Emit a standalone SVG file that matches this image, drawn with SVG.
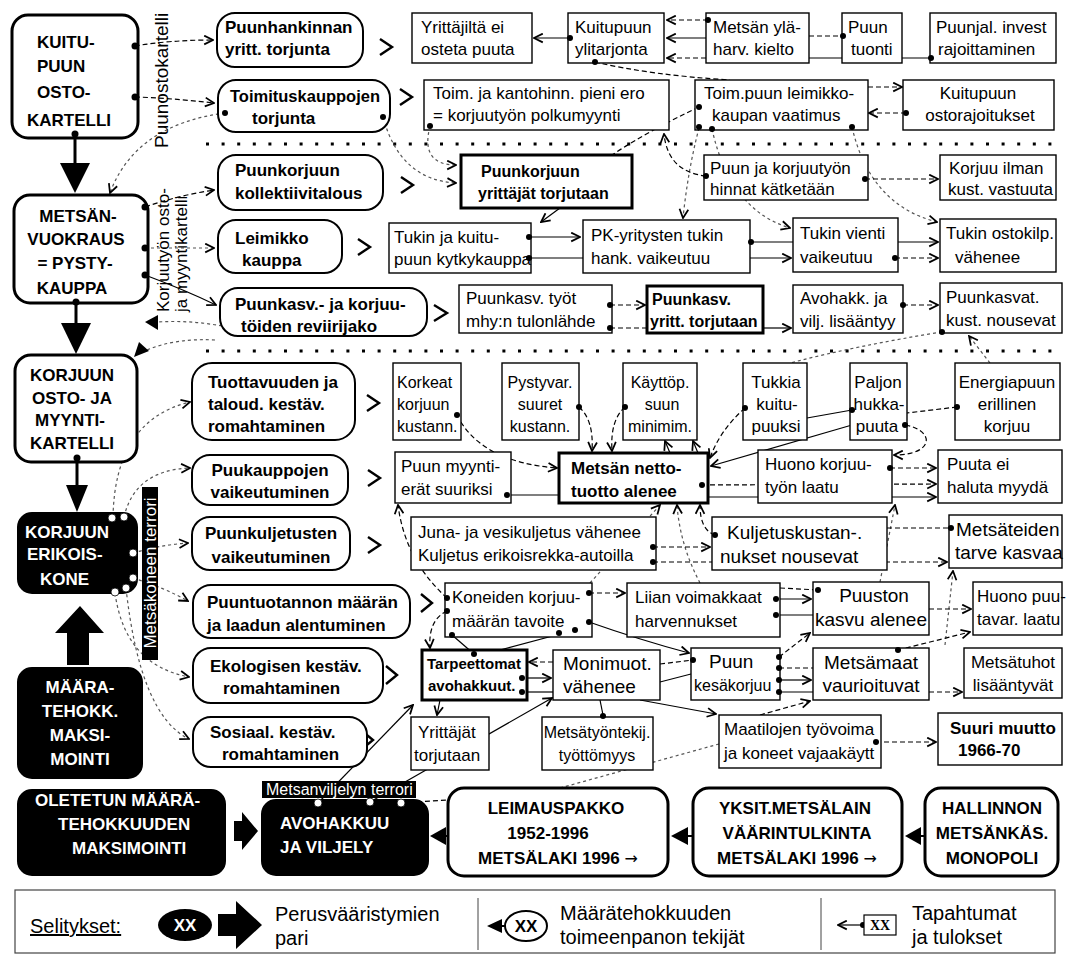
<svg xmlns="http://www.w3.org/2000/svg" width="1066" height="961" viewBox="0 0 1066 961">
<style>
text{font-family:"Liberation Sans",Arial,sans-serif;fill:#000}
.s{font-size:17px}
.s16{font-size:16px}
.s19{font-size:19px}
.b{font-size:17px;font-weight:bold}
.b16{font-size:16px;font-weight:bold}
.b15{font-size:15px;font-weight:bold}
.w{fill:#fff;font-size:17px;font-weight:bold}
.m{text-anchor:middle}
.lg{font-size:20px}
.ar{font-family:"DejaVu Sans",sans-serif;font-weight:normal;font-size:16px}
.bx{fill:#fff;stroke:#000;stroke-width:1.4}
.bt{fill:#fff;stroke:#000;stroke-width:3}
.rn{fill:#fff;stroke:#000;stroke-width:2}
.rh{fill:#fff;stroke:#000;stroke-width:3}
.kb{fill:#000;stroke:#000;stroke-width:2}
.c{fill:none;stroke:#000;stroke-width:1.2}
.d{stroke-dasharray:5 3}
.f{stroke:#555;stroke-dasharray:3 3}
.ch{fill:none;stroke:#000;stroke-width:2.4}
.sep{stroke:#000;stroke-width:3;stroke-dasharray:3 12.6}
.wd{fill:#fff;stroke:#000;stroke-width:0.8}
</style>
<defs>
<marker id="a" viewBox="0 0 10 10" refX="9" refY="5" markerWidth="11" markerHeight="11" markerUnits="userSpaceOnUse" orient="auto">
<path d="M1,1 L9,5 L1,9" fill="none" stroke="#000" stroke-width="1.6"/>
</marker>
</defs>

<g id="separators">
<line class="sep" x1="206" y1="144" x2="1058" y2="144"/>
<line class="sep" x1="206" y1="351" x2="1058" y2="351"/>
</g>

<g id="connectors">
<line x1="75" y1="138" x2="75" y2="165" stroke="#000" stroke-width="3"/>
<polygon points="60,163 90,163 75,193"/>
<line x1="76" y1="303" x2="76" y2="325" stroke="#000" stroke-width="3"/>
<polygon points="61,323 91,323 76,354"/>
<line x1="77" y1="462" x2="77" y2="487" stroke="#000" stroke-width="3"/>
<polygon points="66,485 88,485 77,512"/>
<polygon points="80,606 104,633 89,633 89,665 67,665 67,633 55,633"/>
<polygon points="234,821 242,821 242,812 258,831 242,850 242,841 234,841"/>
<polygon points="430,836 446,827 446,845"/><line x1="446" y1="836" x2="448" y2="836" stroke="#000" stroke-width="2"/>
<polygon points="671,836 688,827 688,845"/><line x1="688" y1="836" x2="693" y2="836" stroke="#000" stroke-width="2"/>
<polygon points="905,836 921,827 921,845"/><line x1="921" y1="836" x2="925" y2="836" stroke="#000" stroke-width="2"/>

<path class="c d" d="M135,46 Q170,40 213,40" marker-end="url(#a)"/>
<path class="c d" d="M135,97 Q170,98 214,103" marker-end="url(#a)"/>
<path class="c f" d="M225,113 Q135,125 110,193" marker-end="url(#a)"/>
<path class="c d" d="M145,207 Q180,195 214,190" marker-end="url(#a)"/>
<path class="c f" d="M145,248 L214,248" marker-end="url(#a)"/>
<path class="c" d="M145,275 Q185,290 216,305" marker-end="url(#a)"/>
<path class="c f" d="M222,326 Q190,320 158,322"/>
<path class="c f" d="M215,340 Q175,338 147,350"/>
<polygon points="145,322 158,315 158,330"/>
<polygon points="134,357 139,342 149,351"/>
<path class="c f" d="M113,517 Q115,420 190,402" marker-end="url(#a)"/>
<path class="c f" d="M124,517 Q135,470 190,468" marker-end="url(#a)"/>
<path class="c f" d="M133,553 Q160,545 188,543" marker-end="url(#a)"/>
<path class="c f" d="M133,578 Q165,588 188,601" marker-end="url(#a)"/>
<path class="c f" d="M115,593 Q125,665 189,677" marker-end="url(#a)"/>
<path class="c f" d="M126,588 Q140,715 189,739" marker-end="url(#a)"/>

<path class="c" d="M570,38 L534,38" marker-end="url(#a)"/>
<path class="c d" d="M708,20 L667,20" marker-end="url(#a)"/>
<path class="c" d="M706,38 L667,38" marker-end="url(#a)"/>
<path class="c" d="M931,58 L706,58"/>
<path class="c d" d="M706,58 L667,58" marker-end="url(#a)"/>
<path class="c d" d="M809,36 L843,36"/>
<path class="c d" d="M595,62 Q650,75 730,80"/>
<path class="c d" d="M868,87 L902,87" marker-end="url(#a)"/>
<path class="c d" d="M906,113 L869,113" marker-end="url(#a)"/>
<path class="c d" d="M699,107 Q650,130 612,155"/>
<path class="c f" d="M699,128 Q688,170 683,218" marker-end="url(#a)"/>
<path class="c f" d="M712,129 Q730,210 790,228" marker-end="url(#a)"/>
<path class="c f" d="M852,127 Q870,205 937,222" marker-end="url(#a)"/>
<path class="c d" d="M706,176 Q668,172 664,134" marker-end="url(#a)"/>
<path class="c f" d="M383,117 Q400,180 456,183" marker-end="url(#a)"/>
<path class="c f" d="M430,126 Q420,165 456,165" marker-end="url(#a)"/>
<path class="c" d="M560,208 L541,222" marker-end="url(#a)"/>
<path class="c d" d="M865,179 L938,179" marker-end="url(#a)"/>
<path class="c" d="M529,237 L580,237" marker-end="url(#a)"/>
<path class="c" d="M529,258 L583,258"/>
<path class="c" d="M750,242 L938,242" marker-end="url(#a)"/>
<path class="c" d="M750,258 L791,258" marker-end="url(#a)"/>
<path class="c d" d="M895,258 L938,258" marker-end="url(#a)"/>
<path class="c d" d="M610,305 L645,305" marker-end="url(#a)"/>
<path class="c d" d="M610,328 L647,328"/>
<path class="c" d="M763,328 L791,328" marker-end="url(#a)"/>
<path class="c d" d="M903,305 L938,305" marker-end="url(#a)"/>
<path class="c f" d="M942,332 Q860,345 790,363"/>
<path class="c f" d="M990,363 L969,336" marker-end="url(#a)"/>
<path class="c d" d="M457,415 Q480,462 557,468" marker-end="url(#a)"/>
<path class="c" d="M507,495 L559,495"/>
<path class="c d" d="M579,407 Q594,420 592,451" marker-end="url(#a)"/>
<path class="c d" d="M625,407 Q610,420 612,451" marker-end="url(#a)"/>
<path class="c" d="M670,453 L665,441" marker-end="url(#a)"/>
<path class="c" d="M698,453 L693,441" marker-end="url(#a)"/>
<path class="c d" d="M745,408 Q720,430 710,458" marker-end="url(#a)"/>
<path class="c" d="M852,410 L807,418"/>
<path class="c d" d="M957,407 L907,413"/>
<path class="c" d="M852,425 L711,466" marker-end="url(#a)"/>
<path class="c d" d="M905,425 C935,430 935,455 894,455" marker-end="url(#a)"/>
<path class="c d" d="M890,468 L936,468" marker-end="url(#a)"/>
<path class="c d" d="M702,485 L936,484" marker-end="url(#a)"/>
<path class="c" d="M708,497 L936,497" marker-end="url(#a)"/>
<path class="c d" d="M447,598 Q405,560 398,505" marker-end="url(#a)"/>
<path class="c d" d="M715,535 Q700,530 700,505" marker-end="url(#a)"/>
<path class="c f" d="M590,583 L660,505" marker-end="url(#a)"/>
<path class="c f" d="M700,583 Q680,545 677,505" marker-end="url(#a)"/>
<path class="c f" d="M880,582 L895,505" marker-end="url(#a)"/>
<path class="c d" d="M653,547 L710,547" marker-end="url(#a)"/>
<path class="c d" d="M653,562 L947,562" marker-end="url(#a)"/>
<path class="c d" d="M887,528 L951,528"/>
<path class="c f" d="M945,645 L953,571" marker-end="url(#a)"/>
<path class="c d" d="M589,593 L625,593" marker-end="url(#a)"/>
<path class="c" d="M776,599 L811,599" marker-end="url(#a)"/>
<path class="c" d="M776,615 L813,615"/>
<path class="c d" d="M780,588 L818,590"/>
<path class="c d" d="M929,609 L971,609" marker-end="url(#a)"/>
<path class="c" d="M589,622 Q640,640 689,653" marker-end="url(#a)"/>
<path class="c" d="M452,635 L474,654"/>
<path class="c" d="M575,630 L500,650"/>
<path class="c d" d="M447,611 Q428,620 430,648" marker-end="url(#a)"/>
<path class="c d" d="M779,657 L810,633" marker-end="url(#a)"/>
<path class="c d" d="M779,668 L813,668"/>
<path class="c" d="M779,680 L811,680" marker-end="url(#a)"/>
<path class="c" d="M779,692 L813,692"/>
<path class="c d" d="M929,692 L962,692" marker-end="url(#a)"/>
<path class="c d" d="M898,650 L970,632" marker-end="url(#a)"/>
<path class="c d" d="M553,662 L529,662" marker-end="url(#a)"/>
<path class="c" d="M522,678 L551,678" marker-end="url(#a)"/>
<path class="c" d="M522,692 L553,692"/>
<path class="c d" d="M660,664 L693,660"/>
<path class="c" d="M660,682 L691,674"/>
<path class="c" d="M600,700 L603,715"/>
<path class="c" d="M640,700 L716,714" marker-end="url(#a)"/>
<path class="c d" d="M760,715 L810,701" marker-end="url(#a)"/>
<path class="c" d="M440,700 L437,715" marker-end="url(#a)"/>
<path class="c d" d="M876,742 L936,742" marker-end="url(#a)"/>
<path class="c" d="M318,803 L413,705" marker-end="url(#a)"/>
<path class="c" d="M370,802 L552,698" marker-end="url(#a)"/>
<path class="c d" d="M401,803 L448,800"/>
<path class="c f" d="M560,788 L719,744"/>
</g>

<g id="chevrons" class="ch">
<path d="M380,39 L392,47 L380,55"/>
<path d="M400,89 L412,97 L400,105"/>
<path d="M401,177 L413,185 L401,193"/>
<path d="M358,239 L370,247 L358,255"/>
<path d="M434,305 L447,313 L434,321"/>
<path d="M367,395 L379,403 L367,411"/>
<path d="M368,470 L380,478 L368,486"/>
<path d="M368,537 L380,545 L368,553"/>
<path d="M421,594 L432,603 L421,612"/>
<path d="M386,666 L397,675 L386,684"/>
<path d="M362,731 L373,740 L362,749"/>
</g>

<g id="n-kuitupuun-ostokartelli">
<rect class="rh" x="12" y="15" width="126" height="123" rx="16"/>
<text class="b" x="37" y="48">KUITU-</text>
<text class="b" x="37" y="72">PUUN</text>
<text class="b" x="37" y="98">OSTO-</text>
<text class="b" x="27" y="126">KARTELLI</text>
<circle cx="135" cy="46" r="3.5"/><circle cx="135" cy="97" r="3.5"/><circle cx="75" cy="134" r="3.5"/>
</g>
<g id="lbl-puunostokartelli">
<text class="s19" transform="translate(168,148) rotate(-90)">Puunostokartelli</text>
</g>
<g id="n-metsanvuokraus">
<rect class="rh" x="14" y="195" width="134" height="108" rx="16"/>
<text class="b m" x="78" y="222">METSÄN-</text>
<text class="b m" x="76" y="245">VUOKRAUS</text>
<text class="b m" x="75" y="269">= PYSTY-</text>
<text class="b m" x="72" y="294">KAUPPA</text>
<circle cx="145" cy="207" r="3.5"/><circle cx="145" cy="248" r="3.5"/><circle cx="145" cy="275" r="3.5"/><circle cx="76" cy="302" r="3.5"/>
</g>
<g id="lbl-korjuutyon">
<text class="s" transform="translate(169,312) rotate(-90)">Korjuutyön osto-</text>
<text class="s" transform="translate(187,312) rotate(-90)">ja myyntikartelli</text>
</g>
<g id="n-korjuun-kartelli">
<rect class="rh" x="15" y="355" width="122" height="107" rx="16"/>
<text class="b m" x="72" y="381">KORJUUN</text>
<text class="b m" x="72" y="404">OSTO- JA</text>
<text class="b m" x="70" y="426">MYYNTI-</text>
<text class="b m" x="72" y="449">KARTELLI</text>
<circle cx="77" cy="458" r="3.5"/>
</g>
<g id="n-korjuun-erikoiskone">
<rect class="kb" x="18" y="513" width="119" height="80" rx="14"/>
<text class="w" x="25" y="538">KORJUUN</text>
<text class="w" x="27" y="560">ERIKOIS-</text>
<text class="w" x="40" y="585">KONE</text>
<circle class="wd" cx="112" cy="518" r="4"/><circle class="wd" cx="124" cy="517" r="4"/>
<circle class="wd" cx="133" cy="553" r="4"/><circle class="wd" cx="133" cy="578" r="4"/>
<circle class="wd" cx="115" cy="592" r="4"/><circle class="wd" cx="126" cy="588" r="4"/>
</g>
<g id="lbl-metsakoneen-terrori">
<rect x="142" y="487" width="16" height="173" fill="#000"/>
<text class="s" style="fill:#fff" transform="translate(156,573) rotate(-90)" text-anchor="middle">Metsäkoneen terrori</text>
</g>
<g id="n-maaratehokk">
<rect class="kb" x="18" y="668" width="124" height="110" rx="14"/>
<text class="w m" x="80" y="693">MÄÄRA-</text>
<text class="w m" x="80" y="717">TEHOKK.</text>
<text class="w m" x="80" y="741">MAKSI-</text>
<text class="w m" x="80" y="765">MOINTI</text>
</g>
<g id="n-oletetun">
<rect class="kb" x="18" y="790" width="207" height="85" rx="14"/>
<text class="w" x="35" y="806">OLETETUN MÄÄRÄ-</text>
<text class="w" x="58" y="830">TEHOKKUUDEN</text>
<text class="w" x="72" y="854">MAKSIMOINTI</text>
</g>
<g id="n-avohakkuu">
<rect class="kb" x="262" y="800" width="166" height="75" rx="14"/>
<text class="w" x="280" y="829">AVOHAKKUU</text>
<text class="w" x="280" y="853">JA  VILJELY</text>
<circle class="wd" cx="318" cy="803" r="4"/><circle class="wd" cx="370" cy="802" r="4"/><circle class="wd" cx="401" cy="803" r="4"/>
</g>
<g id="lbl-metsanviljelyn-terrori">
<rect x="262" y="781" width="154" height="17" fill="#000"/>
<text x="266" y="795" style="fill:#fff;font-size:16px">Metsanviljelyn terrori</text>
</g>
<g id="n-leimauspakko">
<rect class="rh" x="448" y="788" width="220" height="88" rx="16"/>
<text class="b m" x="556" y="814">LEIMAUSPAKKO</text>
<text class="b m" x="548" y="839">1952-1996</text>
<text class="b m" x="558" y="864">METSÄLAKI 1996 <tspan class="ar">→</tspan></text>
</g>
<g id="n-yksit">
<rect class="rh" x="693" y="788" width="209" height="88" rx="16"/>
<text class="b m" x="795" y="814">YKSIT.METSÄLAIN</text>
<text class="b m" x="797" y="839">VÄÄRINTULKINTA</text>
<text class="b m" x="797" y="864">METSÄLAKI 1996  <tspan class="ar">→</tspan></text>
</g>
<g id="n-hallinnon">
<rect class="rh" x="925" y="788" width="133" height="88" rx="16"/>
<text class="b m" x="992" y="814">HALLINNON</text>
<text class="b m" x="992" y="839">METSÄNKÄS.</text>
<text class="b m" x="992" y="864">MONOPOLI</text>
</g>

<g id="n-puunhankinnan"><rect class="rn" x="217" y="13" width="146" height="54" rx="18"/>
<text class="b" x="225" y="33">Puunhankinnan</text><text class="b" x="225" y="55">yritt. torjunta</text></g>
<g id="n-toimituskauppojen"><rect class="rn" x="218" y="80" width="172" height="52" rx="18"/>
<text class="b" x="230" y="102" style="font-size:16.5px">Toimituskauppojen</text><text class="b" x="252" y="124">torjunta</text>
<circle cx="225" cy="113" r="3"/><circle cx="383" cy="117" r="3"/></g>
<g id="n-kollektiivi"><rect class="rn" x="218" y="155" width="165" height="55" rx="18"/>
<text class="b" x="235" y="176">Puunkorjuun</text><text class="b" x="235" y="199">kollektiivitalous</text></g>
<g id="n-leimikko"><rect class="rn" x="218" y="220" width="124" height="53" rx="18"/>
<text class="b" x="235" y="244">Leimikko</text><text class="b" x="242" y="266">kauppa</text></g>
<g id="n-reviirijako"><rect class="rn" x="220" y="288" width="207" height="48" rx="18"/>
<text class="b" x="235" y="310">Puunkasv.- ja korjuu-</text><text class="b" x="241" y="332">töiden reviirijako</text></g>
<g id="n-tuottavuuden"><rect class="rn" x="192" y="363" width="163" height="77" rx="20"/>
<text class="b" x="208" y="388">Tuottavuuden ja</text><text class="b" x="208" y="410">taloud. kestäv.</text><text class="b" x="208" y="432">romahtaminen</text></g>
<g id="n-puukauppojen"><rect class="rn" x="192" y="455" width="156" height="50" rx="18"/>
<text class="b m" x="270" y="476">Puukauppojen</text><text class="b m" x="270" y="498">vaikeutuminen</text></g>
<g id="n-puunkuljetusten"><rect class="rn" x="192" y="517" width="158" height="53" rx="18"/>
<text class="b m" x="271" y="539">Puunkuljetusten</text><text class="b m" x="271" y="563">vaikeutuminen</text></g>
<g id="n-puuntuotannon"><rect class="rn" x="193" y="585" width="217" height="53" rx="18"/>
<text class="b" x="207" y="608">Puuntuotannon määrän</text><text class="b" x="207" y="631">ja laadun alentuminen</text></g>
<g id="n-ekologisen"><rect class="rn" x="193" y="648" width="190" height="55" rx="18"/>
<text class="b" x="210" y="672">Ekologisen kestäv.</text><text class="b" x="223" y="694">romahtaminen</text></g>
<g id="n-sosiaal"><rect class="rn" x="193" y="717" width="174" height="50" rx="18"/>
<text class="b" x="210" y="738">Sosiaal. kestäv.</text><text class="b" x="222" y="760">romahtaminen</text></g>

<g id="n-yrittajilta"><rect class="bx" x="412" y="13" width="120" height="50"/>
<text class="s" x="421" y="33">Yrittäjiltä ei</text><text class="s" x="421" y="55">osteta puuta</text></g>
<g id="n-kuitupuun-ylitarjonta"><rect class="bx" x="568" y="13" width="96" height="50"/>
<text class="s" x="575" y="33">Kuitupuun</text><text class="s" x="575" y="55">ylitarjonta</text>
<circle cx="570" cy="38" r="3"/><circle cx="595" cy="62" r="3"/></g>
<g id="n-metsan-ylaharv"><rect class="bx" x="706" y="13" width="103" height="50"/>
<text class="s" x="713" y="33">Metsän ylä-</text><text class="s" x="713" y="55">harv. kielto</text>
<circle cx="708" cy="20" r="3"/></g>
<g id="n-puun-tuonti"><rect class="bx" x="842" y="13" width="60" height="50"/>
<text class="s" x="848" y="33">Puun</text><text class="s" x="851" y="55">tuonti</text>
<circle cx="843" cy="36" r="3"/></g>
<g id="n-puunjal"><rect class="bx" x="930" y="13" width="126" height="50"/>
<text class="s" x="936" y="33">Puunjal. invest</text><text class="s" x="938" y="55">rajoittaminen</text>
<circle cx="931" cy="58" r="3"/></g>

<g id="n-toim-kanto"><rect class="bx" x="424" y="80" width="245" height="50"/>
<text class="s" x="433" y="99">Toim. ja kantohinn. pieni ero</text><text class="s" x="433" y="121">= korjuutyön polkumyynti</text>
<circle cx="430" cy="126" r="3"/></g>
<g id="n-toim-leimikko"><rect class="bx" x="695" y="80" width="173" height="50"/>
<text class="s" x="704" y="99">Toim.puun leimikko-</text><text class="s" x="712" y="121">kaupan vaatimus</text>
<circle cx="699" cy="107" r="3"/><circle cx="699" cy="127" r="3"/><circle cx="712" cy="129" r="3"/><circle cx="852" cy="127" r="3"/></g>
<g id="n-kuitu-osto"><rect class="bx" x="903" y="80" width="151" height="50"/>
<text class="s m" x="978" y="99">Kuitupuun</text><text class="s m" x="980" y="121">ostorajoitukset</text>
<circle cx="906" cy="113" r="3"/></g>

<g id="n-pk-yrittajat"><rect class="bt" x="461" y="155" width="171" height="53"/>
<text class="b16" x="481" y="177">Puunkorjuun</text><text class="b16" x="478" y="199">yrittäjät torjutaan</text></g>
<g id="n-puun-korjuutyon"><rect class="bx" x="704" y="155" width="164" height="45"/>
<text class="s" x="710" y="174">Puun ja korjuutyön</text><text class="s" x="710" y="195">hinnat kätketään</text>
<circle cx="706" cy="176" r="3"/><circle cx="865" cy="179" r="3"/></g>
<g id="n-korjuu-ilman"><rect class="bx" x="940" y="155" width="116" height="45"/>
<text class="s" x="949" y="174">Korjuu ilman</text><text class="s" x="948" y="195">kust. vastuuta</text></g>

<g id="n-tukin-kuitu"><rect class="bx" x="389" y="223" width="142" height="50"/>
<text class="s" x="394" y="243">Tukin ja kuitu-</text><text class="s" x="394" y="265">puun kytkykauppa</text>
<circle cx="529" cy="237" r="3"/><circle cx="529" cy="258" r="3"/></g>
<g id="n-pk-yritysten"><rect class="bx" x="583" y="220" width="167" height="53"/>
<text class="s" x="591" y="241">PK-yritysten tukin</text><text class="s" x="591" y="264">hank. vaikeutuu</text>
<circle cx="751" cy="242" r="3"/></g>
<g id="n-tukin-vienti"><rect class="bx" x="793" y="218" width="105" height="54"/>
<text class="s" x="800" y="239">Tukin vienti</text><text class="s" x="800" y="263">vaikeutuu</text>
<circle cx="895" cy="258" r="3"/></g>
<g id="n-tukin-ostokilp"><rect class="bx" x="940" y="219" width="116" height="53"/>
<text class="s" x="946" y="239">Tukin ostokilp.</text><text class="s" x="955" y="263">vähenee</text></g>

<g id="n-puunkasv-tyot"><rect class="bx" x="459" y="285" width="153" height="48"/>
<text class="s" x="466" y="304">Puunkasv. työt</text><text class="s" x="466" y="327">mhy:n tulonlähde</text>
<circle cx="610" cy="305" r="3"/><circle cx="610" cy="328" r="3"/></g>
<g id="n-puunkasv-yritt"><rect class="bt" x="647" y="286" width="116" height="47"/>
<text class="b16" x="652" y="305">Puunkasv.</text><text class="b16" x="650" y="327">yritt. torjutaan</text></g>
<g id="n-avohakk"><rect class="bx" x="793" y="285" width="110" height="48"/>
<text class="s" x="800" y="304">Avohakk. ja</text><text class="s" x="800" y="327">vilj. lisääntyy</text>
<circle cx="903" cy="305" r="3"/></g>
<g id="n-puunkasvat-kust"><rect class="bx" x="940" y="283" width="122" height="50"/>
<text class="s" x="946" y="303">Puunkasvat.</text><text class="s" x="946" y="326">kust. nousevat</text>
<circle cx="942" cy="332" r="3"/></g>

<g id="n-korkeat"><rect class="bx" x="393" y="363" width="68" height="77"/>
<text class="s16" x="397" y="388">Korkeat</text><text class="s16" x="397" y="410">korjuun</text><text class="s16" x="397" y="432">kustann.</text>
<circle cx="457" cy="415" r="3"/></g>
<g id="n-pystyvar"><rect class="bx" x="502" y="363" width="77" height="77"/>
<text class="s16 m" x="540" y="388">Pystyvar.</text><text class="s16 m" x="540" y="410">suuret</text><text class="s16 m" x="540" y="432">kustann.</text>
<circle cx="579" cy="407" r="3"/></g>
<g id="n-kayttop"><rect class="bx" x="623" y="363" width="74" height="77"/>
<text class="s16 m" x="660" y="388">Käyttöp.</text><text class="s16 m" x="662" y="410">suun</text><text class="s16 m" x="660" y="432">minimim.</text>
<circle cx="625" cy="407" r="3"/></g>
<g id="n-tukkia"><rect class="bx" x="743" y="363" width="64" height="77"/>
<text class="s m" x="776" y="388">Tukkia</text><text class="s m" x="777" y="410">kuitu-</text><text class="s m" x="776" y="432">puuksi</text>
<circle cx="745" cy="408" r="3"/></g>
<g id="n-paljon"><rect class="bx" x="850" y="363" width="57" height="77"/>
<text class="s m" x="878" y="388">Paljon</text><text class="s m" x="879" y="410">hukka-</text><text class="s m" x="877" y="432">puuta</text>
<circle cx="852" cy="410" r="3"/><circle cx="905" cy="425" r="3"/></g>
<g id="n-energiapuun"><rect class="bx" x="955" y="363" width="105" height="77"/>
<text class="s m" x="1007" y="388">Energiapuun</text><text class="s m" x="1007" y="410">erillinen</text><text class="s m" x="1007" y="432">korjuu</text>
<circle cx="957" cy="407" r="3"/></g>

<g id="n-puun-myynti"><rect class="bx" x="395" y="452" width="116" height="51"/>
<text class="s" x="401" y="472">Puun myynti-</text><text class="s" x="401" y="495">erät suuriksi</text>
<circle cx="507" cy="495" r="3"/></g>
<g id="n-metsan-netto"><rect class="bt" x="559" y="453" width="149" height="50"/>
<text class="b" x="571" y="474">Metsän netto-</text><text class="b" x="571" y="497">tuotto alenee</text>
<circle cx="702" cy="485" r="3"/></g>
<g id="n-huono-korjuu"><rect class="bx" x="758" y="450" width="134" height="53"/>
<text class="s" x="765" y="470">Huono korjuu-</text><text class="s" x="765" y="493">työn laatu</text>
<circle cx="890" cy="468" r="3"/></g>
<g id="n-puuta-ei"><rect class="bx" x="938" y="450" width="124" height="53"/>
<text class="s" x="947" y="470">Puuta ei</text><text class="s" x="947" y="493">haluta myydä</text></g>

<g id="n-juna"><rect class="bx" x="411" y="517" width="245" height="53"/>
<text class="s" x="418" y="538">Juna- ja vesikuljetus vähenee</text><text class="s" x="418" y="561">Kuljetus erikoisrekka-autoilla</text>
<circle cx="653" cy="547" r="3"/><circle cx="653" cy="562" r="3"/></g>
<g id="n-kuljetuskust"><rect class="bx" x="712" y="517" width="175" height="53"/>
<text class="s19" x="727" y="539">Kuljetuskustan-.</text><text class="s19" x="720" y="563">nukset nousevat</text>
<circle cx="715" cy="535" r="3"/></g>
<g id="n-metsateiden"><rect class="bx" x="949" y="515" width="113" height="53"/>
<text class="s19" x="956" y="536">Metsäteiden</text><text class="s19" x="955" y="559">tarve kasvaa</text>
<circle cx="951" cy="528" r="3"/></g>

<g id="n-koneiden"><rect class="bx" x="445" y="583" width="147" height="54"/>
<text class="s" x="452" y="603">Koneiden korjuu-</text><text class="s" x="452" y="627">määrän tavoite</text>
<circle cx="447" cy="598" r="3"/><circle cx="447" cy="611" r="3"/><circle cx="589" cy="593" r="3"/><circle cx="589" cy="622" r="3"/>
<circle cx="452" cy="635" r="3"/><circle cx="559" cy="633" r="3"/><circle cx="575" cy="630" r="3"/></g>
<g id="n-liian"><rect class="bx" x="627" y="583" width="153" height="54"/>
<text class="s" x="635" y="603">Liian voimakkaat</text><text class="s" x="635" y="627">harvennukset</text>
<circle cx="776" cy="599" r="3"/><circle cx="776" cy="615" r="3"/></g>
<g id="n-puuston"><rect class="bx" x="813" y="582" width="116" height="53"/>
<text class="s19 m" x="874" y="602">Puuston</text><text class="s19 m" x="871" y="626">kasvu alenee</text>
<circle cx="818" cy="590" r="3"/></g>
<g id="n-huono-puutavar"><rect class="bx" x="973" y="582" width="89" height="53"/>
<text class="s" x="977" y="602">Huono puu-</text><text class="s" x="977" y="625">tavar. laatu</text></g>

<g id="n-tarpeettomat"><rect class="bt" x="422" y="650" width="105" height="50"/>
<text class="b15" x="427" y="669">Tarpeettomat</text><text class="b15" x="428" y="691">avohakkuut.</text>
<circle cx="474" cy="654" r="3"/><circle cx="522" cy="678" r="3"/><circle cx="522" cy="692" r="3"/></g>
<g id="n-monimuot"><rect class="bx" x="553" y="650" width="107" height="50"/>
<text class="s19" x="563" y="670">Monimuot.</text><text class="s19" x="563" y="693">vähenee</text></g>
<g id="n-puun-kesakorjuu"><rect class="bx" x="691" y="648" width="89" height="52"/>
<text class="s19" x="709" y="668">Puun</text><text class="s16" x="694" y="691">kesäkorjuu</text>
<circle cx="693" cy="660" r="3"/><circle cx="779" cy="657" r="3"/><circle cx="779" cy="668" r="3"/><circle cx="779" cy="680" r="3"/><circle cx="779" cy="692" r="3"/></g>
<g id="n-metsamaat"><rect class="bx" x="813" y="648" width="116" height="52"/>
<text class="s19 m" x="871" y="669">Metsämaat</text><text class="s19 m" x="871" y="692">vaurioituvat</text>
<circle cx="898" cy="650" r="3"/></g>
<g id="n-metsatuhot"><rect class="bx" x="964" y="648" width="98" height="50"/>
<text class="s m" x="1013" y="668">Metsätuhot</text><text class="s m" x="1013" y="691">lisääntyvät</text></g>

<g id="n-yrittajat-torjutaan"><rect class="bx" x="411" y="717" width="78" height="53"/>
<text class="s" x="418" y="738">Yrittäjät</text><text class="s" x="414" y="761">torjutaan</text></g>
<g id="n-metsatyontekij"><rect class="bx" x="542" y="717" width="111" height="53"/>
<text class="s16 m" x="597" y="738">Metsätyöntekij.</text><text class="s16 m" x="597" y="761">työttömyys</text>
<circle cx="603" cy="716" r="3"/></g>
<g id="n-maatilojen"><rect class="bx" x="719" y="715" width="162" height="53"/>
<text class="s" x="724" y="735">Maatilojen työvoima</text><text class="s" x="724" y="759">ja koneet vajaakäytt</text>
<circle cx="876" cy="742" r="3"/></g>
<g id="n-suuri-muutto"><rect class="bx" x="938" y="713" width="124" height="52"/>
<text class="b" x="950" y="734">Suuri muutto</text><text class="b" x="958" y="756">1966-70</text></g>

<g id="legend">
<rect x="15" y="890" width="1040" height="63" fill="#fff" stroke="#444" stroke-width="1.2"/>
<line x1="478" y1="898" x2="478" y2="950" stroke="#444" stroke-width="1"/>
<line x1="821" y1="898" x2="821" y2="950" stroke="#444" stroke-width="1"/>
<text class="lg" x="30" y="933" text-decoration="underline">Selitykset:</text>
<ellipse cx="185" cy="925" rx="27" ry="16"/>
<text class="w m" x="185" y="931">XX</text>
<polygon points="218,914 236,914 236,901 262,925 236,949 236,936 218,936"/>
<text class="lg" x="275" y="921">Perusvääristymien</text>
<text class="lg" x="275" y="945">pari</text>
<polygon points="487,926 502,919 502,933"/>
<line x1="502" y1="926" x2="506" y2="926" stroke="#000" stroke-width="2"/>
<ellipse cx="526" cy="926" rx="21" ry="15" fill="#fff" stroke="#000" stroke-width="2"/>
<text class="b m" x="526" y="932">XX</text>
<text class="lg" x="560" y="920">Määrätehokkuuden</text>
<text class="lg" x="560" y="944">toimeenpanon tekijät</text>
<path class="c" d="M862,925 L838,925" marker-end="url(#a)"/>
<circle cx="863" cy="925" r="3"/>
<rect x="864" y="915" width="32" height="20" fill="#fff" stroke="#000" stroke-width="1.2"/>
<text x="880" y="930" text-anchor="middle" style="font-family:'Liberation Serif',serif;font-weight:bold;font-size:14px">XX</text>
<text class="lg" x="912" y="920">Tapahtumat</text>
<text class="lg" x="912" y="944">ja tulokset</text>
</g>
</svg>
